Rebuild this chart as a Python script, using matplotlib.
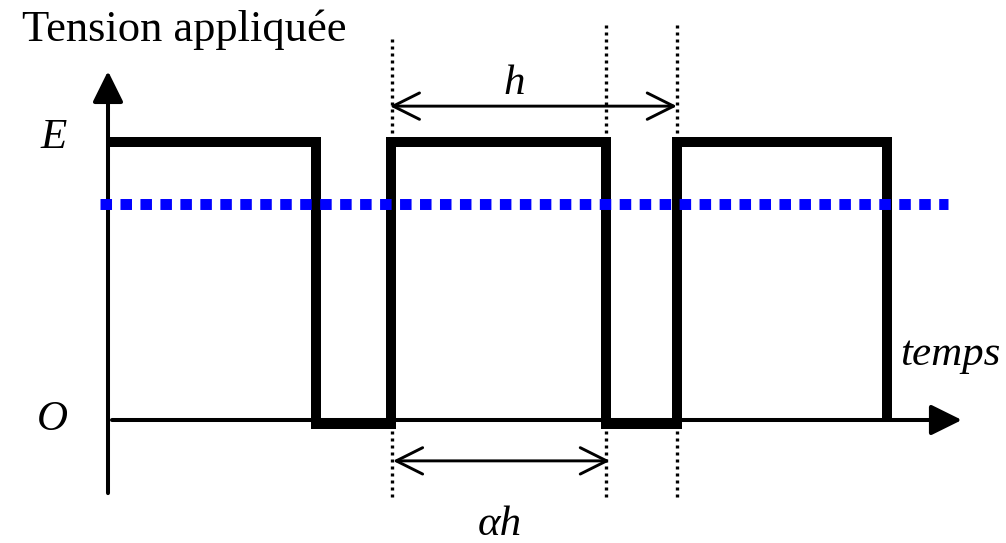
import numpy as np
import matplotlib
matplotlib.use("Agg")
import matplotlib.pyplot as plt

# signal values (time in units of period h, voltage in units of E)
E = 1.0
low_level = -0.015
switch_times = [0.0, 0.73, 0.993, 1.747, 1.996, 2.733]
switch_levels = [E, low_level, E, low_level, E, 0.0]
mean_value = 0.777
period_marks = [0.997, 1.749, 1.995]

font = "Liberation Serif"

fig = plt.figure(figsize=(10.06, 5.43), dpi=100)
ax = fig.add_axes([0, 0, 1, 1])
ax.set_xlim(-108 / 285, (1006 - 108) / 285)
ax.set_ylim(-(543 - 420) / 278, 420 / 278)
ax.axis("off")

# axes with arrows
ax.annotate("", xy=(2.996, 0), xytext=(0.014, 0),
            arrowprops=dict(arrowstyle="-|>,head_length=19,head_width=9.4",
                            mutation_scale=1, lw=2.9, color="black",
                            shrinkA=0, shrinkB=0))
ax.annotate("", xy=(0, 1.255), xytext=(0, -0.263),
            arrowprops=dict(arrowstyle="-|>,head_length=19,head_width=9.4",
                            mutation_scale=1, lw=2.9, color="black",
                            shrinkA=0, shrinkB=0))

# dotted markers of the period
for i, t in enumerate(period_marks):
    top = 1.385 if i == 0 else 1.432
    ax.plot([t, t], [-0.277, top], color="black", lw=2.4,
            linestyle=(0, (0.9, 1.2)), zorder=1)

# PWM waveform
tw, vw = [], []
for k in range(len(switch_times)):
    if k > 0:
        tw.append(switch_times[k])
        vw.append(switch_levels[k - 1])
    tw.append(switch_times[k])
    vw.append(switch_levels[k])
ax.plot(tw, vw, color="black", lw=7.2, solid_joinstyle="miter",
        solid_capstyle="butt", zorder=3)

# mean value
ax.plot([-0.028, 2.947], [mean_value, mean_value], color="#0000ff", lw=7.9,
        linestyle=(0, (1.05, 0.77)), dash_capstyle="butt", zorder=4)

# h and alpha*h dimension arrows
ax.annotate("", xy=(1.996, 1.129), xytext=(0.989, 1.129),
            arrowprops=dict(arrowstyle="<->,head_length=19,head_width=9.5",
                            mutation_scale=1, lw=2.1, color="black",
                            shrinkA=0, shrinkB=0))
ax.annotate("", xy=(1.761, -0.147), xytext=(1.0, -0.147),
            arrowprops=dict(arrowstyle="<->,head_length=19,head_width=9.5",
                            mutation_scale=1, lw=2.1, color="black",
                            shrinkA=0, shrinkB=0))

# labels
ax.text(-0.302, 1.364, "Tension appliquée", family=font, fontsize=32,
        ha="left", va="baseline")
ax.text(-0.19, 1.015, "E", family=font, style="italic", fontsize=31,
        ha="center", va="center")
ax.text(-0.197, 0.0, "O", family=font, style="italic", fontsize=31,
        ha="center", va="center")
ax.text(2.78, 0.198, "temps", family=font, style="italic", fontsize=31,
        ha="left", va="baseline")
ax.text(1.425, 1.21, "h", family=font, style="italic", fontsize=31,
        ha="center", va="center")
ax.text(1.375, -0.412, "αh", family=font, style="italic", fontsize=31,
        ha="center", va="baseline")

fig.savefig("out.png", dpi=100)
